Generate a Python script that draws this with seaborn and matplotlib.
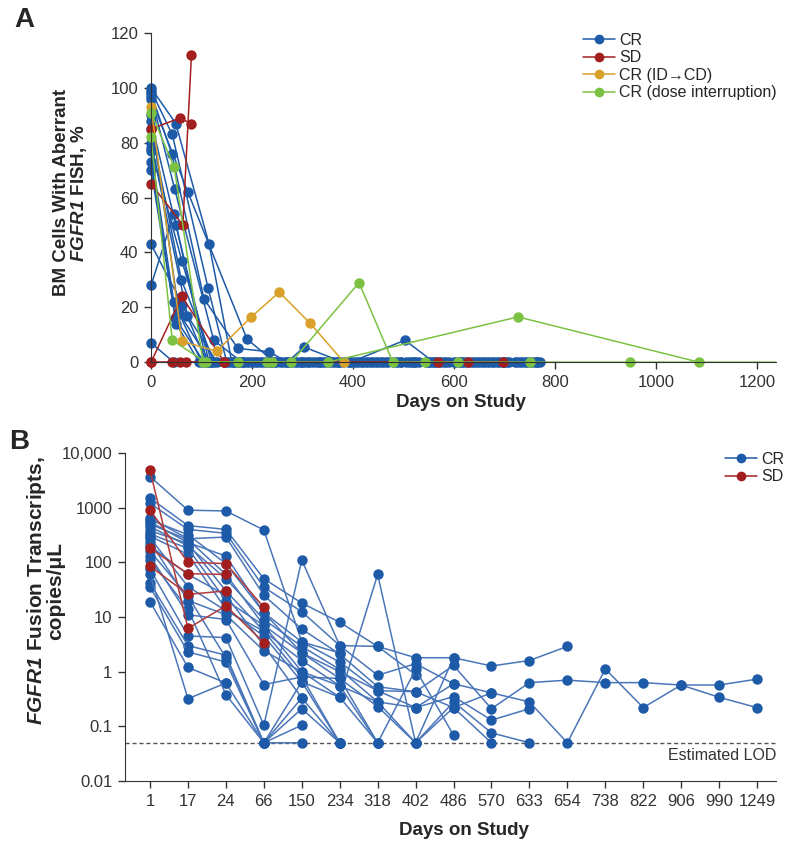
import matplotlib
matplotlib.use("Agg")
import matplotlib.pyplot as plt
from matplotlib.lines import Line2D
import pandas as pd
import seaborn as sns

# ---------------- Panel A: % BM cells with aberrant FGFR1 FISH ----------------
groups_a = ["CR", "SD", "CR (ID\u2192CD)", "CR (dose interruption)"]

cr_a_days = [
    [0, 49, 115, 160, 215, 280, 345, 410, 470, 530, 600, 660, 720, 765],
    [0, 42, 113, 150, 205, 265, 330, 395, 455, 520, 585, 650, 710],
    [0, 41, 105, 172, 234, 270, 335, 400, 465, 525, 590, 655, 740],
    [0, 47, 124, 180, 240, 300, 360, 425, 490, 555, 615, 680, 750],
    [0, 73, 190, 245, 310, 370, 435, 495, 560, 625, 690, 755],
    [0, 45, 110, 165, 225, 290, 350, 415, 480, 545, 610, 675, 735],
    [0, 49, 115, 175, 230, 295, 355, 420, 485, 548, 612, 670, 730],
    [0, 61, 120, 185, 270, 303, 380, 440, 510, 565, 630, 695, 760],
    [0, 45, 100, 155, 210, 275, 335, 395, 503, 560, 620, 685, 745],
    [0, 48, 105, 165, 220, 285, 340, 405, 460, 520, 580, 645, 705, 770],
    [0, 50, 95, 145, 200, 260, 325, 390, 450, 515, 575, 640, 700],
    [0, 62, 110, 170, 235, 300, 365, 430, 495, 550, 605, 665, 725],
    [0, 72, 130, 195, 255, 318, 375, 445, 505, 570, 635, 700, 765],
    [0, 45, 110, 175, 240, 305, 370],
    [0, 55, 118, 182, 248, 312],
    [0, 60, 125, 190],
]
cr_a_pct = [
    [100, 87, 43, 0, 0, 0, 0, 0, 0, 0, 0, 0, 0, 0],
    [99, 83, 27, 0, 0, 0, 0, 0, 0, 0, 0, 0, 0],
    [98, 76, 23, 5, 3.8, 0, 0, 0, 0, 0, 0, 0, 0],
    [97, 63, 8, 0, 0, 0, 0, 0, 0, 0, 0, 0, 0],
    [96, 62, 8.4, 0, 0, 0, 0, 0, 0, 0, 0, 0],
    [28, 54, 0, 0, 0, 0, 0, 0, 0, 0, 0, 0, 0],
    [88, 50, 0, 0, 0, 0, 0, 0, 0, 0, 0, 0, 0],
    [78, 37, 0, 0, 0, 5.5, 0, 0, 0, 0, 0, 0, 0],
    [77, 22, 0, 0, 0, 0, 0, 0, 8, 0, 0, 0, 0],
    [73, 16, 0, 0, 0, 0, 0, 0, 0, 0, 0, 0, 0, 0],
    [70, 14, 0, 0, 0, 0, 0, 0, 0, 0, 0, 0, 0],
    [43, 21, 0, 0, 0, 0, 0, 0, 0, 0, 0, 0, 0],
    [80, 17, 0, 0, 0, 0, 0, 0, 0, 0, 0, 0, 0],
    [7, 0, 0, 0, 0, 0, 0],
    [90, 18, 0, 0, 0, 0],
    [85, 30, 0, 0],
]
sd_a_days = [
    [0, 41, 57, 69, 145, 568, 627, 697],
    [0, 57, 79],
    [0, 63, 80],
    [0, 61, 145],
]
sd_a_pct = [
    [0, 0, 0, 0, 0, 0, 0, 0],
    [85, 89, 87],
    [65, 50, 112],
    [0, 24, 0],
]
idcd_a_days = [[0, 61, 130, 198, 254, 315, 382]]
idcd_a_pct = [[93, 7.6, 4, 16.4, 25.5, 14.2, 0]]
di_a_days = [
    [0, 46, 103, 173, 229, 278, 412, 479, 543, 608, 750, 948, 1260],
    [0, 42, 108, 240, 351, 727, 1085],
]
di_a_pct = [
    [91, 71, 0, 0, 0, 0, 29, 0, 0, 0, 0, 0, 0],
    [82, 8, 0, 0, 0, 16.5, 0],
]

# ---------------- Panel B: FGFR1 fusion transcripts ----------------
visits = [1, 17, 24, 66, 150, 234, 318, 402, 486, 570, 633, 654, 738, 822, 906, 990, 1249]

cr_b = [
    [3700, 900, 870, 390, 3.5, 2.2],
    [1500, 470, 400, 50, 18, 8, 2.9, 1.8, 1.8, 1.27, 1.6, 2.9],
    [1200, 400, 340, 35, 12.5, 3.0, 0.86, 1.4, 0.6, 0.41, 0.28, 0.05, 1.12, 0.22, 0.57, 0.34, 0.22],
    [650, 270, 290, 25, 6, 2.1, 0.53, 0.43, 1.3, 0.21, 0.63, 0.7, 0.63, 0.63, 0.57, 0.57, 0.73],
    [550, 230, 130, 12, 3.5, 1.5, 0.45, 0.22, 0.35, 0.13, 0.21],
    [450, 200, 50, 9, 2.9, 1.1, 0.28, 0.05, 0.28, 0.076, 0.05],
    [330, 180, 20, 7, 2.2, 0.75, 0.23, 0.05, 0.22, 0.05],
    [280, 36, 13, 5.5, 1.6, 0.55, 0.05, 1.1, 0.069],
    [240, 20, 11, 2.4, 1.0, 0.34, 0.05],
    [130, 11, 9, 0.58, 0.8, 0.05],
    [75, 4.5, 4.2, 0.105, 110, 3.0, 2.9, 0.88],
    [42, 3, 2.0, 0.05, 0.65, 0.34, 60, 0.05, 1.8],
    [35, 2.3, 1.5, 0.05, 0.33],
    [19, 1.2, 0.62, 0.05, 0.21, 0.05],
    [60, 0.32, 0.62],
    [600, 320, 95, 12, 2.2, 1.0, 0.45, 0.43, 0.22, 0.41],
    [500, 260, 60, 7, 1.0, 0.55, 0.28, 0.22, 0.6],
    [380, 220, 30, 5.5, 0.8, 0.75, 0.05],
    [300, 140, 14, 4.5, 0.65, 0.05],
    [200, 60, 25, 3.0, 0.33, 0.05],
    [160, 24, 1.8, 0.05, 0.105],
    [110, 14, 0.38, 0.05, 0.05],
]
sd_b = [
    [4800, 6.2, 16, 3.4],
    [900, 100, 95, 15],
    [180, 62, 60],
    [85, 26, 30],
]
lod = 0.05

# ---------------- styling ----------------
blue = "#1d5aa8"
red = "#a31f1f"
gold = "#d9a129"
green = "#7cc242"
pal_a = dict(zip(groups_a, [blue, red, gold, green]))
pal_b = {"CR": blue, "SD": red}
line_b = {blue: "#4a76b9", red: "#b23a3a"}

sns.set_style("ticks")
plt.rcParams["font.family"] = ["Liberation Sans", "DejaVu Sans"]
plt.rcParams["mathtext.fontset"] = "custom"
plt.rcParams["mathtext.bfit"] = "Liberation Sans:bold:italic"
plt.rcParams["mathtext.rm"] = "Liberation Sans"
plt.rcParams["axes.edgecolor"] = "#333333"
plt.rcParams["xtick.color"] = "#333333"
plt.rcParams["ytick.color"] = "#333333"

# long tables
rows = []
for grp, dl, vl in [("CR", cr_a_days, cr_a_pct), ("SD", sd_a_days, sd_a_pct),
                    (groups_a[2], idcd_a_days, idcd_a_pct), (groups_a[3], di_a_days, di_a_pct)]:
    for i, (d, v) in enumerate(zip(dl, vl)):
        for dd, vv in zip(d, v):
            rows.append((f"{grp}-{i}", grp, dd, vv))
dfa = pd.DataFrame(rows, columns=["pid", "group", "day", "pct"])

rows = []
for grp, pl in [("CR", cr_b), ("SD", sd_b)]:
    for i, v in enumerate(pl):
        for k, vv in enumerate(v):
            rows.append((f"{grp}-{i}", grp, k, vv))
dfb = pd.DataFrame(rows, columns=["pid", "group", "visit", "copies"])

W, H = 788, 844
fig = plt.figure(figsize=(W / 100, H / 100), dpi=100)
TICK = 12
LAB = 13.5

# panel A axes (pixel geometry)
axA = fig.add_axes([145 / W, 1 - 369 / H, (776 - 145) / W, (369 - 33) / H])
sns.lineplot(data=dfa, x="day", y="pct", hue="group", units="pid", estimator=None,
             sort=False, hue_order=groups_a, palette=pal_a, marker="o", markersize=7.5,
             markeredgewidth=0, linewidth=1.1, legend=False, ax=axA)
axA.set_xlim(-12, 1238)
axA.set_ylim(-2.5, 120)
axA.spines["left"].set_position(("data", 0))
axA.spines["bottom"].set_position(("data", 0))
axA.spines["bottom"].set_bounds(0, 1238)
axA.spines["left"].set_bounds(0, 120)
sns.despine(ax=axA)
axA.set_xticks(range(0, 1201, 200))
axA.set_yticks(range(0, 121, 20))
axA.tick_params(labelsize=TICK, length=5, width=1, pad=4)
axA.set_xlabel("Days on Study", fontsize=LAB, fontweight="bold")
axA.xaxis.set_label_coords(0.5, -0.075)
axA.set_ylabel("BM Cells With Aberrant\n$\\mathbfit{FGFR1}$ FISH, %", fontsize=LAB,
               fontweight="bold", linespacing=0.95)
axA.yaxis.set_label_coords(-0.088, 0.524)

hA = [Line2D([], [], color=pal_a[g], marker="o", markersize=7, mew=0, lw=1.1) for g in groups_a]
fig.legend(hA, groups_a, loc="upper left", bbox_to_anchor=(583 / W, 1 - 33 / H), frameon=False,
           fontsize=11.5, handlelength=2.0, handletextpad=0.25, labelspacing=0.15,
           borderaxespad=0, borderpad=0)

# panel B axes
axB = fig.add_axes([125 / W, 1 - 781 / H, (776 - 125) / W, (781 - 453) / H])
sns.lineplot(data=dfb, x="visit", y="copies", hue="group", units="pid", estimator=None,
             sort=False, hue_order=["CR", "SD"], palette=pal_b, marker="o", markersize=7.5,
             markeredgewidth=0, linewidth=1.1, legend=False, ax=axB)
for ln in axB.lines:
    c = matplotlib.colors.to_hex(ln.get_color())
    ln.set_markerfacecolor(c)
    ln.set_color(line_b.get(c, c))
axB.set_yscale("log")
axB.set_ylim(0.01, 10000)
axB.set_xlim(-0.66, 16.5)
axB.axhline(lod, color="#555555", lw=1, ls=(0, (3, 2)), zorder=0)
axB.text(16.5, lod * 0.8, "Estimated LOD", ha="right", va="top", fontsize=11.5, color="#333333")
sns.despine(ax=axB)
axB.set_xticks(range(len(visits)))
axB.set_xticklabels([str(v) for v in visits])
yt = [0.01, 0.1, 1, 10, 100, 1000, 10000]
axB.set_yticks(yt)
axB.set_yticklabels(["0.01", "0.1", "1", "10", "100", "1000", "10,000"])
axB.minorticks_off()
axB.tick_params(labelsize=TICK, length=5, width=1, pad=4)
axB.set_xlabel("Days on Study", fontsize=LAB, fontweight="bold")
axB.xaxis.set_label_coords(0.52, -0.125)
axB.set_ylabel("$\\mathbfit{FGFR1}$ Fusion Transcripts,\ncopies/\u03bcL", fontsize=15,
               fontweight="bold", linespacing=0.88)
axB.yaxis.set_label_coords(-0.092, 0.579)

hB = [Line2D([], [], color=pal_b[g], marker="o", markersize=7, mew=0, lw=1.1) for g in ["CR", "SD"]]
fig.legend(hB, ["CR", "SD"], loc="upper right", bbox_to_anchor=(784 / W, 1 - 452 / H), frameon=False,
           fontsize=11.5, handlelength=2.0, handletextpad=0.25, labelspacing=0.15,
           borderaxespad=0, borderpad=0)

# panel letters
fig.text(14 / W, 1 - 7 / H, "A", fontsize=20, fontweight="bold", va="top")
fig.text(9 / W, 1 - 429 / H, "B", fontsize=20, fontweight="bold", va="top")

fig.savefig("out.png", dpi=100)
